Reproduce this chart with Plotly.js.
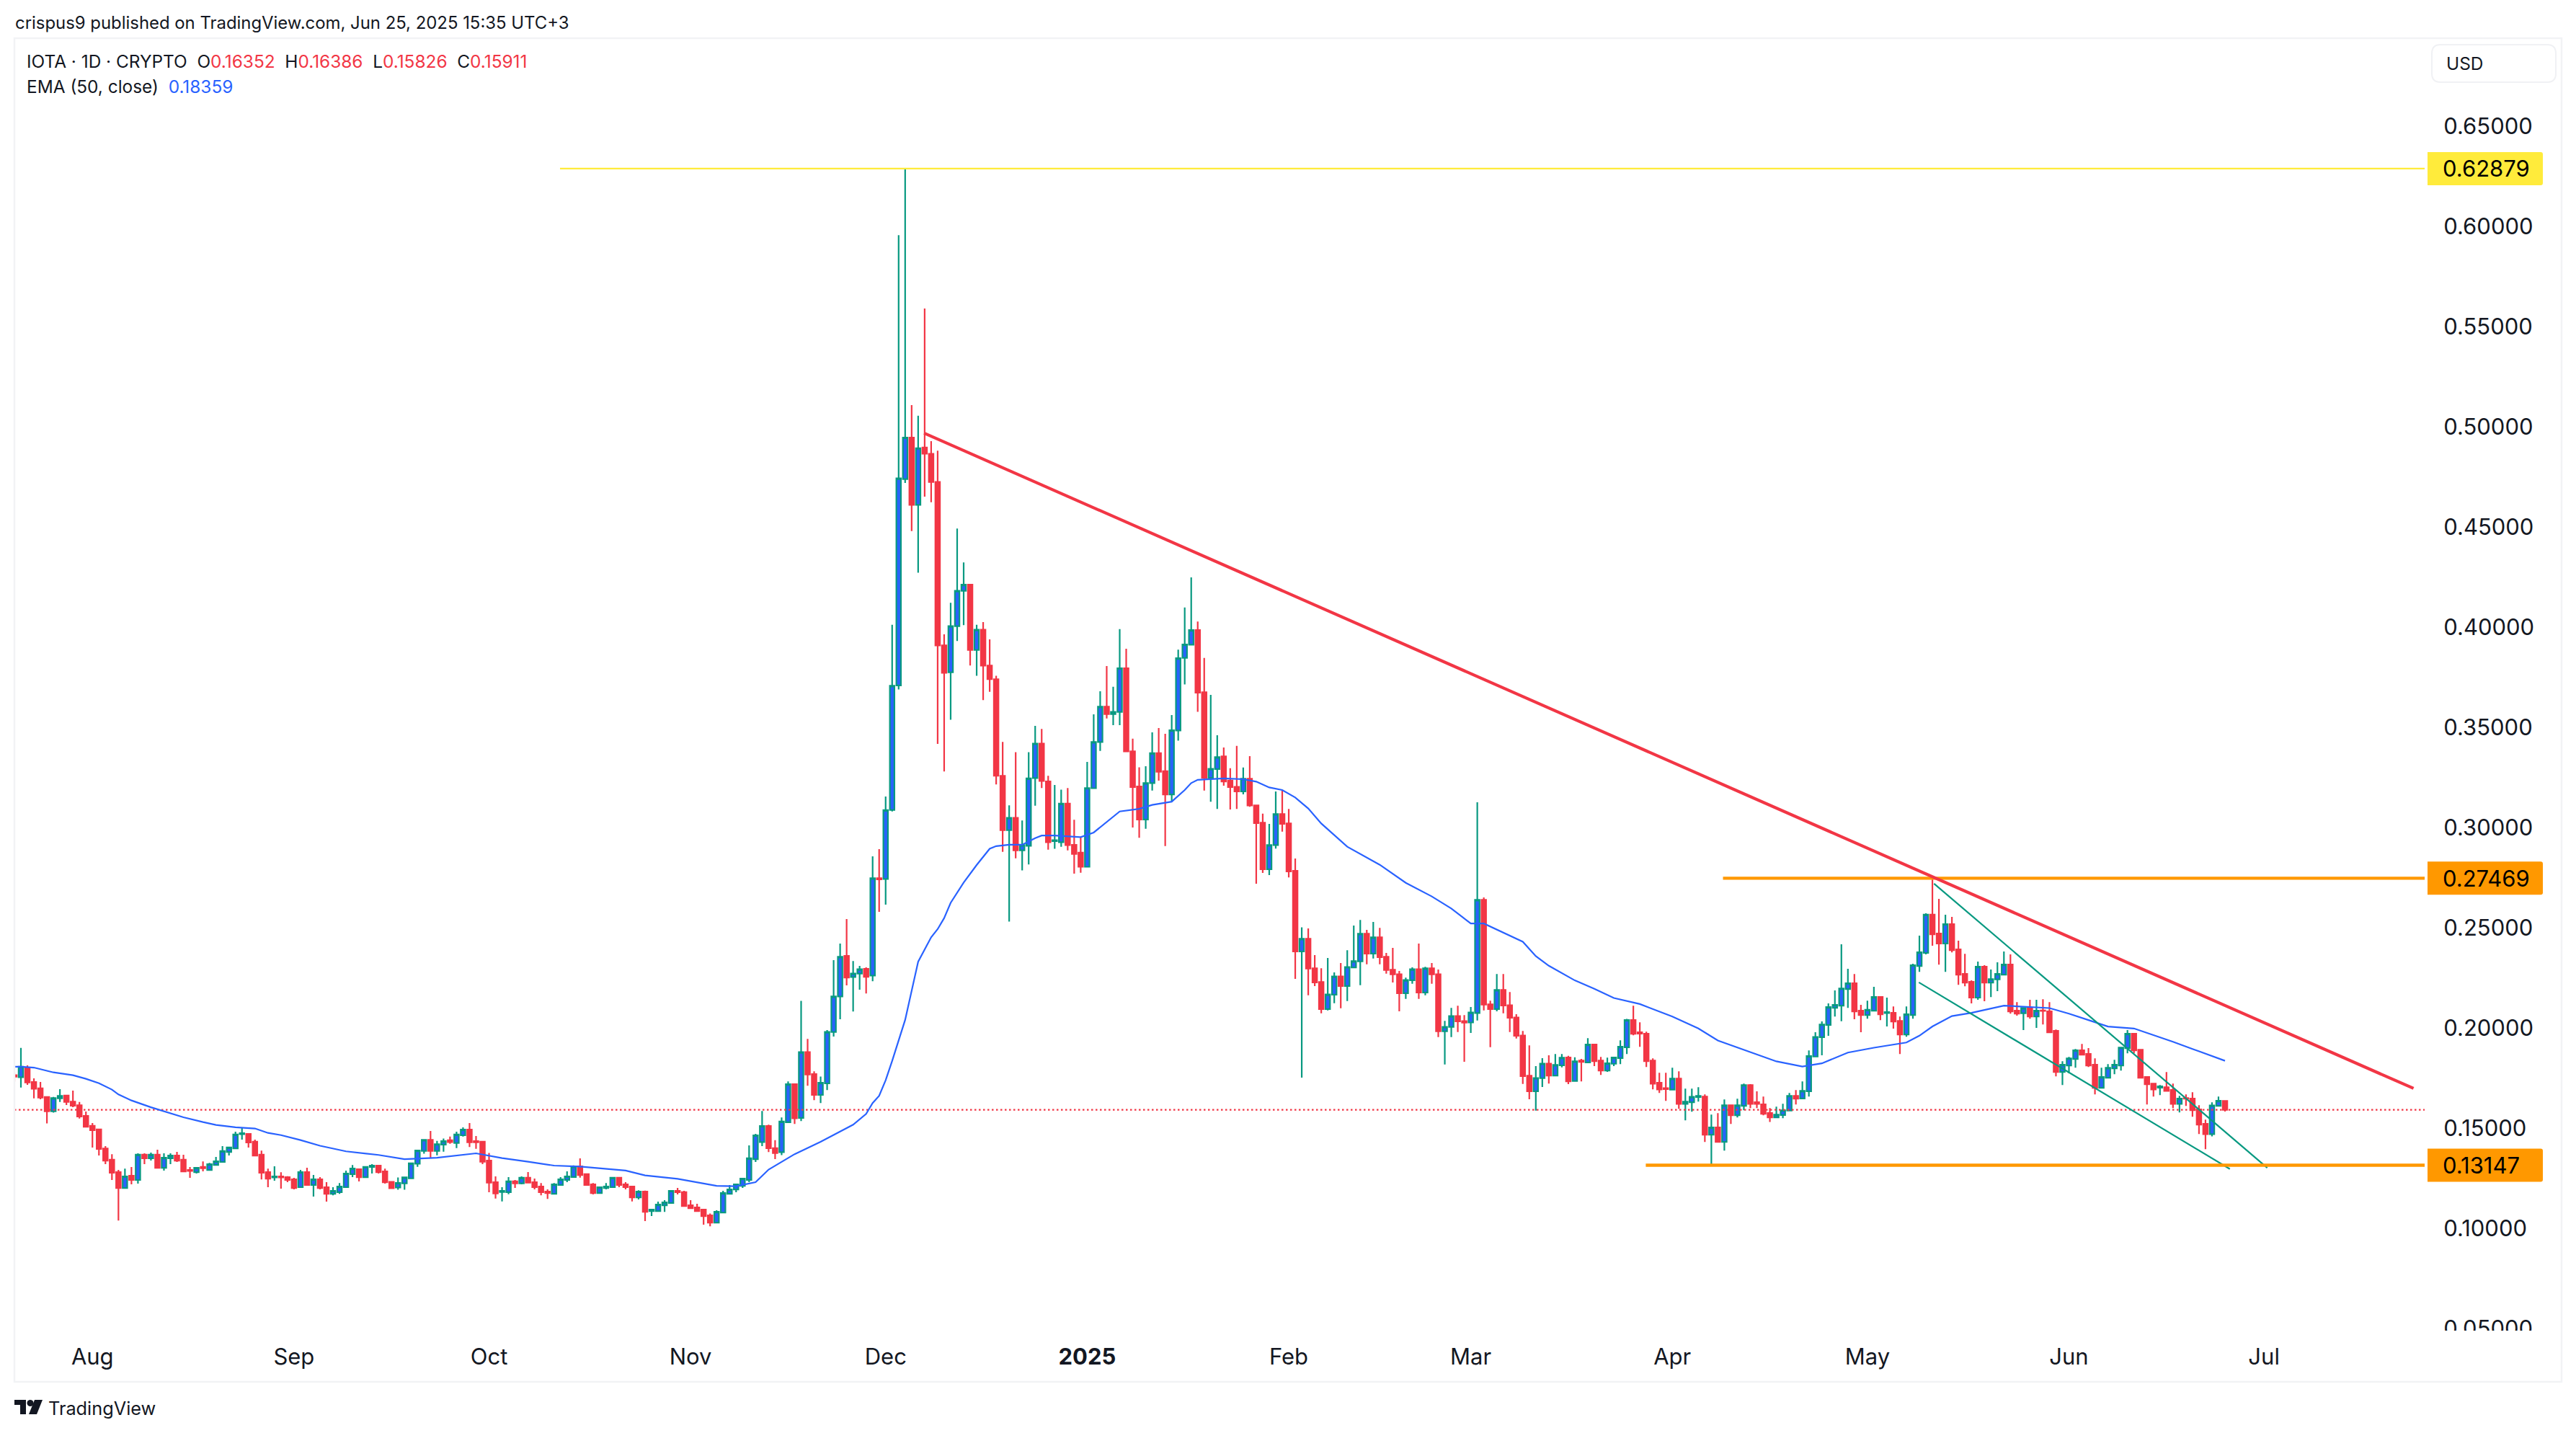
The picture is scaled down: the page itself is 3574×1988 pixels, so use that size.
<!DOCTYPE html>
<html>
<head>
<meta charset="utf-8">
<script src="https://cdn.plot.ly/plotly-3.0.1.min.js"></script>
<style>html,body{margin:0;padding:0;background:#fff}#chart{width:3574px;height:1988px}</style>
</head>
<body>
<div id="chart"></div>
<script>
const firstBarDate = '2024-07-20';
const opens = [
.1764,.1754,.1802,.1730,.1698,.1655,.1584,.1649,.1662,.1632,
.1614,.1561,.1511,.1493,.1398,.1342,.1280,.1201,.1262,.1241,
.1367,.1349,.1367,.1302,.1349,.1363,.1342,.1291,.1280,.1306,
.1291,.1316,.1331,.1381,.1399,.1470,.1471,.1432,.1367,.1280,
.1254,.1259,.1255,.1244,.1205,.1280,.1216,.1244,.1205,.1172,
.1180,.1205,.1270,.1295,.1255,.1306,.1313,.1284,.1232,.1204,
.1224,.1249,.1322,.1386,.1441,.1386,.1418,.1439,.1426,.1464,
.1492,.1435,.1432,.1338,.1230,.1181,.1180,.1234,.1224,.1252,
.1230,.1208,.1183,.1172,.1216,.1241,.1256,.1309,.1270,.1219,
.1176,.1201,.1205,.1252,.1219,.1208,.1154,.1183,.1086,.1086,
.1115,.1126,.1187,.1180,.1115,.1104,.1093,.1064,.1028,.1079,
.1172,.1194,.1212,.1241,.1345,.1430,.1510,.1400,.1380,.1529,
.1719,.1551,.1879,.1769,.1666,.1723,.1980,.2157,.2359,.2254,
.2271,.2295,.2261,.2747,.2743,.3088,.3709,.4739,.4946,.4610,
.4896,.4865,.4724,.3909,.3775,.4005,.4181,.4212,.3886,.3987,
.3808,.3740,.3258,.2987,.3048,.2886,.2909,.3247,.3419,.3230,
.2932,.2927,.3119,.2913,.2875,.2804,.3196,.3427,.3603,.3566,
.3577,.3795,.3380,.3205,.3040,.3222,.3371,.3281,.3165,.3484,
.3847,.3912,.3985,.3675,.3248,.3292,.3355,.3234,.3203,.3180,
.3243,.3110,.3024,.2792,.2912,.3067,.3020,.2784,.2382,.2445,
.2297,.2229,.2094,.2166,.2257,.2209,.2302,.2332,.2470,.2371,
.2452,.2355,.2290,.2268,.2173,.2238,.2293,.2177,.2297,.2268,
.1983,.2005,.2059,.2034,.2027,.2074,.2639,.2117,.2094,.2189,
.2113,.2052,.1962,.1761,.1684,.1749,.1822,.1762,.1813,.1852,
.1735,.1837,.1828,.1917,.1837,.1787,.1821,.1849,.1903,.2039,
.1978,.1971,.1837,.1726,.1699,.1692,.1747,.1621,.1629,.1655,
.1657,.1467,.1503,.1431,.1614,.1564,.1611,.1715,.1629,.1618,
.1575,.1553,.1565,.1588,.1661,.1648,.1684,.1857,.1954,.2015,
.2100,.2111,.2194,.2223,.2086,.2064,.2086,.2154,.2074,.2075,
.2035,.1967,.2064,.2309,.2374,.2565,.2471,.2421,.2518,.2392,
.2269,.2230,.2151,.2305,.2226,.2242,.2266,.2316,.2086,.2073,
.2100,.2057,.2087,.2082,.1985,.1780,.1812,.1845,.1888,.1870,
.1816,.1701,.1751,.1798,.1812,.1899,.1971,.1891,.1755,.1722,
.1702,.1704,.1690,.1621,.1650,.1647,.1593,.1521,.1470,.1611,
.16352];
const closes = [
.1757,.1806,.1728,.1696,.1652,.1584,.1650,.1661,.1631,.1612,
.1558,.1507,.1490,.1396,.1338,.1277,.1201,.1259,.1241,.1367,
.1349,.1367,.1302,.1352,.1363,.1338,.1284,.1286,.1302,.1300,
.1320,.1334,.1385,.1403,.1468,.1474,.1428,.1363,.1277,.1248,
.1259,.1254,.1241,.1201,.1280,.1216,.1244,.1201,.1172,.1187,
.1208,.1273,.1298,.1255,.1306,.1313,.1280,.1230,.1200,.1226,
.1254,.1324,.1388,.1441,.1386,.1420,.1435,.1430,.1468,.1492,
.1429,.1429,.1332,.1228,.1174,.1187,.1234,.1224,.1252,.1228,
.1205,.1180,.1176,.1219,.1244,.1259,.1308,.1266,.1216,.1176,
.1205,.1208,.1252,.1216,.1205,.1154,.1183,.1082,.1093,.1118,
.1129,.1187,.1180,.1111,.1100,.1086,.1061,.1028,.1082,.1176,
.1194,.1219,.1248,.1349,.1464,.1510,.1400,.1375,.1533,.1719,
.1549,.1879,.1767,.1666,.1726,.1980,.2157,.2355,.2251,.2271,
.2293,.2255,.2747,.2741,.3087,.3707,.4742,.4946,.4610,.4893,
.4865,.4724,.3909,.3772,.4005,.4181,.4212,.3886,.3987,.3808,
.3740,.3258,.2987,.3048,.2886,.2912,.3245,.3419,.3232,.2927,
.2937,.3119,.2912,.2868,.2804,.3197,.3427,.3603,.3566,.3577,
.3795,.3380,.3202,.3040,.3222,.3371,.3278,.3165,.3485,.3845,
.3913,.3985,.3673,.3248,.3293,.3351,.3230,.3202,.3180,.3243,
.3110,.3022,.2792,.2912,.3067,.3018,.2781,.2382,.2445,.2296,
.2227,.2094,.2167,.2257,.2209,.2304,.2333,.2470,.2371,.2452,
.2353,.2289,.2267,.2173,.2239,.2293,.2177,.2297,.2267,.1983,
.2005,.2059,.2033,.2026,.2077,.2639,.2116,.2094,.2189,.2112,
.2051,.1961,.1759,.1684,.1750,.1822,.1762,.1815,.1851,.1733,
.1833,.1830,.1917,.1834,.1787,.1823,.1852,.1906,.2039,.1971,
.1972,.1834,.1722,.1693,.1695,.1747,.1621,.1632,.1656,.1661,
.1467,.1503,.1431,.1614,.1564,.1614,.1715,.1621,.1621,.1571,
.1553,.1567,.1589,.1661,.1647,.1686,.1859,.1955,.2017,.2104,
.2115,.2197,.2223,.2082,.2064,.2090,.2154,.2068,.2079,.2032,
.1967,.2068,.2313,.2377,.2565,.2467,.2421,.2518,.2388,.2266,
.2226,.2151,.2305,.2226,.2243,.2269,.2316,.2082,.2071,.2099,
.2057,.2086,.2085,.1978,.1780,.1816,.1848,.1888,.1866,.1812,
.1701,.1755,.1801,.1816,.1902,.1971,.1888,.1751,.1719,.1693,
.1708,.1686,.1621,.1647,.1647,.1589,.1517,.1470,.1613,.1636,
.15911];
const highs = [
.1776,.1900,.1813,.1748,.1730,.1658,.1656,.1694,.1666,.1687,
.1630,.1583,.1525,.1496,.1410,.1370,.1291,.1298,.1306,.1374,
.1374,.1378,.1392,.1374,.1374,.1381,.1367,.1306,.1302,.1334,
.1326,.1356,.1410,.1406,.1482,.1500,.1475,.1442,.1388,.1298,
.1309,.1280,.1260,.1252,.1291,.1302,.1266,.1255,.1230,.1205,
.1226,.1288,.1316,.1298,.1309,.1320,.1316,.1298,.1232,.1254,
.1255,.1326,.1392,.1441,.1486,.1436,.1448,.1458,.1482,.1504,
.1525,.1460,.1436,.1376,.1259,.1205,.1255,.1241,.1259,.1281,
.1248,.1226,.1194,.1226,.1255,.1284,.1314,.1349,.1270,.1226,
.1208,.1226,.1255,.1255,.1230,.1212,.1190,.1188,.1097,.1133,
.1140,.1190,.1201,.1187,.1140,.1122,.1093,.1074,.1090,.1187,
.1216,.1219,.1248,.1414,.1471,.1585,.1517,.1440,.1553,.1733,
.1721,.2135,.1945,.1783,.1757,.1989,.2338,.2421,.2543,.2334,
.2309,.2302,.2856,.2892,.3155,.4012,.5956,.62879,.5108,.5055,
.5590,.4928,.4880,.3964,.4121,.4492,.4323,.4212,.4012,.4025,
.3939,.3757,.3427,.3111,.3376,.3035,.3376,.3507,.3492,.3258,
.3212,.3189,.3197,.3039,.2952,.3327,.3565,.3680,.3806,.3702,
.3990,.3892,.3443,.3300,.3306,.3475,.3496,.3468,.3561,.3888,
.4098,.4248,.4028,.3846,.3662,.3460,.3399,.3296,.3407,.3299,
.3356,.3110,.3069,.3018,.3180,.3183,.3093,.2845,.2502,.2496,
.2363,.2298,.2349,.2277,.2324,.2388,.2511,.2539,.2489,.2529,
.2499,.2374,.2399,.2284,.2251,.2302,.2421,.2305,.2324,.2291,
.2035,.2100,.2111,.2064,.2104,.3126,.2651,.2136,.2269,.2269,
.2179,.2068,.1985,.1913,.1809,.1849,.1863,.1870,.1870,.1861,
.1853,.1845,.1949,.1920,.1855,.1852,.1855,.1938,.2045,.2111,
.2028,.1981,.1848,.1776,.1776,.1801,.1783,.1697,.1697,.1704,
.1668,.1567,.1575,.1643,.1618,.1647,.1722,.1719,.1683,.1657,
.1600,.1607,.1621,.1675,.1690,.1733,.1888,.1978,.2032,.2122,
.2187,.2417,.2295,.2269,.2115,.2136,.2205,.2154,.2151,.2107,
.2057,.2107,.2320,.2460,.2572,.27469,.2644,.2565,.2554,.2435,
.2370,.2237,.2331,.2313,.2291,.2327,.2381,.2367,.2129,.2099,
.2140,.2140,.2143,.2129,.1992,.1834,.1855,.1895,.1920,.1899,
.1848,.1801,.1819,.1841,.1903,.1989,.1974,.1891,.1758,.1726,
.1715,.1780,.1722,.1661,.1668,.1679,.1614,.1542,.1629,.1657,
.16386];
const lows = [
.1732,.1702,.1716,.1648,.1644,.1523,.1577,.1630,.1615,.1604,
.1548,.1504,.1403,.1363,.1320,.1241,.1039,.1201,.1219,.1223,
.1320,.1338,.1298,.1288,.1320,.1331,.1280,.1252,.1273,.1284,
.1288,.1313,.1327,.1363,.1399,.1442,.1403,.1363,.1244,.1205,
.1237,.1198,.1230,.1194,.1201,.1216,.1158,.1194,.1133,.1165,
.1172,.1205,.1255,.1234,.1255,.1273,.1273,.1223,.1200,.1192,
.1192,.1246,.1307,.1372,.1352,.1364,.1382,.1422,.1400,.1458,
.1406,.1397,.1320,.1180,.1148,.1134,.1170,.1201,.1219,.1224,
.1194,.1165,.1147,.1172,.1212,.1230,.1254,.1253,.1212,.1169,
.1176,.1194,.1205,.1205,.1194,.1134,.1144,.1036,.1061,.1082,
.1082,.1126,.1169,.1111,.1100,.1082,.1018,.1010,.1028,.1079,
.1169,.1180,.1201,.1230,.1331,.1410,.1380,.1345,.1365,.1529,
.1521,.1535,.1711,.1639,.1625,.1690,.1957,.2043,.2212,.2082,
.2191,.2172,.2233,.2579,.2615,.3080,.3689,.4719,.4479,.4272,
.4651,.4623,.3417,.3280,.3538,.3931,.4010,.3808,.3757,.3636,
.3677,.3215,.2879,.2531,.2846,.2786,.2816,.3109,.3197,.2889,
.2894,.2904,.2886,.2770,.2774,.2804,.3196,.3382,.3544,.3511,
.3511,.3380,.3000,.2949,.2994,.3184,.3234,.2907,.3129,.3433,
.3714,.3912,.3577,.3184,.3129,.3093,.3209,.3090,.3093,.3165,
.3103,.2719,.2773,.2763,.2895,.2979,.2751,.2245,.1752,.2163,
.2209,.2073,.2087,.2123,.2098,.2134,.2300,.2213,.2317,.2346,
.2317,.2271,.2227,.2083,.2145,.2220,.2145,.2163,.2220,.1954,
.1817,.1954,.1979,.1831,.1975,.2037,.2087,.1904,.2083,.2073,
.1979,.1947,.1720,.1644,.1587,.1705,.1722,.1759,.1803,.1719,
.1733,.1733,.1828,.1809,.1765,.1781,.1809,.1819,.1870,.1963,
.1906,.1805,.1693,.1675,.1636,.1692,.1596,.1539,.1582,.1632,
.1431,.1315,.1427,.1388,.1521,.1553,.1589,.1600,.1600,.1564,
.1531,.1549,.1549,.1585,.1618,.1647,.1657,.1857,.1863,.1960,
.2057,.2033,.2100,.2043,.1978,.2046,.2086,.2039,.2007,.1996,
.1870,.1956,.2046,.2280,.2367,.2410,.2316,.2280,.2377,.2215,
.2208,.2122,.2140,.2133,.2154,.2183,.2266,.2071,.2061,.1989,
.2046,.2000,.2017,.1978,.1758,.1715,.1773,.1801,.1866,.1805,
.1668,.1701,.1747,.1769,.1787,.1873,.1873,.1747,.1618,.1657,
.1665,.1686,.1600,.1578,.1611,.1557,.1470,.1395,.1459,.1611,
.15826];

// EMA (50, close): bar number (counted from Jul 21 2024) and the value read at that bar
const emaBars = [-1,0,2,5,8,10,12,14,15,17,20,22,25,28,30,33,36,38,40,43,46,50,55,59,64,70,74,78,82,86,93,96,101,107,110,113,115,119,123,128,130,131,132,133,134,136,138,140,141,142,143,145,147,149,150,152,154,156,157,159,163,165,167,169,172,174,177,179,180,181,185,188,190,192,194,196,198,200,204,209,213,217,220,223,225,228,231,233,235,239,242,245,249,254,258,261,265,270,274,277,281,285,290,292,294,297,300,305,312,315,318,321,325,331,334,337,339];
const emaValues = [.1806,.1806,.1802,.1778,.1764,.1746,.1724,.1692,.1668,.1638,.1604,.1584,.1554,.1530,.1516,.1504,.1498,.1476,.1465,.1440,.1412,.1384,.1366,.1345,.1352,.1374,.1350,.1332,.1313,.1308,.1288,.1264,.1247,.1212,.1210,.1230,.1293,.1370,.1432,.1517,.1571,.1625,.1661,.1739,.1835,.2040,.2330,.2452,.2493,.2548,.2624,.2725,.2813,.2894,.2907,.2914,.2914,.2947,.2960,.2960,.2952,.2975,.3026,.3080,.3093,.3113,.3129,.3187,.3222,.3238,.3245,.3241,.3229,.3200,.3187,.3150,.3095,.3020,.2904,.2814,.2724,.2656,.2596,.2521,.2521,.2474,.2430,.2358,.2310,.2237,.2195,.2149,.2119,.2057,.1997,.1937,.1891,.1833,.1807,.1823,.1877,.1901,.1927,.1961,.2007,.2059,.2075,.2111,.2099,.2071,.2039,.2007,.1997,.1931,.1895,.1859,.18359];

// Hand-drawn lines on the chart
const lastPrice = 0.15911;
const highLevel = 0.62879, upperLevel = 0.27469, lowerLevel = 0.13147;
const redTrendX = ['2024-12-06 22:00','2025-07-24 00:00'], redTrendY = [.4968,.1698];
const wedgeUpperX = ['2025-05-11 06:00','2025-07-01 12:00'], wedgeUpperY = [.2720,.1302];
const wedgeLowerX = ['2025-05-08 22:00','2025-06-25 18:00'], wedgeLowerY = [.2227,.1296];
const highLevelStart = '2024-10-11 22:00', upperLevelStart = '2025-04-08 19:00', lowerLevelStart = '2025-03-27 22:00';
const xStart = '2024-07-20 00:00', xEnd = '2025-07-25 17:00';

const priceTicks = [.05,.10,.15,.20,.25,.30,.35,.40,.45,.50,.55,.60,.65];
const monthTicks = ['2024-08-01','2024-09-01','2024-10-01','2024-11-01','2024-12-01','2025-01-01','2025-02-01','2025-03-01','2025-04-01','2025-05-01','2025-06-01','2025-07-01'];
const monthLabels = ['Aug','Sep','Oct','Nov','Dec','<b>2025</b>','Feb','Mar','Apr','May','Jun','Jul'];

const W = 3574, H = 1988;
const FONT = 'Inter, "Noto Sans", sans-serif';
const INK = '#131722', RED = '#F23645', GREEN = '#089981', BLUE = '#2962FF', ORANGE = '#FF9800', YELLOW = '#FFEB3B';
const PANE = {l:20, r:3364, t:53, b:1846};
const fx = x => x / W, fy = y => 1 - y / H;

const barDates = opens.map((_, i) => {
  const d = new Date(Date.parse(firstBarDate + 'T00:00:00Z') + i * 86400000);
  return d.toISOString().slice(0, 10);
});
const emaDates = emaBars.map(b => barDates[b + 1]);

const yRange = [.04892, .69388];
const priceToPx = p => PANE.t + (yRange[1] - p) / (yRange[1] - yRange[0]) * (PANE.b - PANE.t);

function lineTrace(x, y, color, width, dash) {
  return {type:'scatter', mode:'lines', x, y, hoverinfo:'skip', showlegend:false,
          line:{color, width, dash: dash || 'solid', shape:'linear'}};
}

const traces = [
  lineTrace([xStart, xEnd], [lastPrice, lastPrice], RED, 2.4, '2.5px,3.5px'),
  {type:'candlestick', x:barDates, open:opens, high:highs, low:lows, close:closes,
   hoverinfo:'skip', showlegend:false,
   increasing:{line:{color:GREEN, width:2.2}, fillcolor:BLUE},
   decreasing:{line:{color:RED, width:2.2}, fillcolor:RED},
   whiskerwidth:0},
  lineTrace(emaDates, emaValues, BLUE, 2.2),
  lineTrace(wedgeUpperX, wedgeUpperY, GREEN, 2.2),
  lineTrace(wedgeLowerX, wedgeLowerY, GREEN, 2.2),
  lineTrace([highLevelStart, xEnd], [highLevel, highLevel], YELLOW, 2.2),
  lineTrace([upperLevelStart, xEnd], [upperLevel, upperLevel], ORANGE, 4.4),
  lineTrace([lowerLevelStart, xEnd], [lowerLevel, lowerLevel], ORANGE, 4.4),
  lineTrace(redTrendX, redTrendY, RED, 4.2)
];

function roundBoxPath(x0, y0, x1, y1, r) {
  return `M ${fx(x0)} ${fy(y0)} L ${fx(x1 - r)} ${fy(y0)} Q ${fx(x1)} ${fy(y0)} ${fx(x1)} ${fy(y0 + r)} ` +
         `L ${fx(x1)} ${fy(y1 - r)} Q ${fx(x1)} ${fy(y1)} ${fx(x1 - r)} ${fy(y1)} L ${fx(x0)} ${fy(y1)} Z`;
}
function roundRectPath(x0, y0, x1, y1, r) {
  return `M ${fx(x0 + r)} ${fy(y0)} L ${fx(x1 - r)} ${fy(y0)} Q ${fx(x1)} ${fy(y0)} ${fx(x1)} ${fy(y0 + r)} ` +
         `L ${fx(x1)} ${fy(y1 - r)} Q ${fx(x1)} ${fy(y1)} ${fx(x1 - r)} ${fy(y1)} L ${fx(x0 + r)} ${fy(y1)} ` +
         `Q ${fx(x0)} ${fy(y1)} ${fx(x0)} ${fy(y1 - r)} L ${fx(x0)} ${fy(y0 + r)} Q ${fx(x0)} ${fy(y0)} ${fx(x0 + r)} ${fy(y0)} Z`;
}
function pxPoly(pts) {
  return 'M ' + pts.map(p => fx(p[0]) + ' ' + fy(p[1])).join(' L ') + ' Z';
}
const paperShape = o => Object.assign({xref:'paper', yref:'paper', layer:'above'}, o);
const BOX_H = 46;
const labelBox = (p, color) => paperShape({type:'path', fillcolor:color, line:{width:0},
  path: roundBoxPath(3368, priceToPx(p) - BOX_H / 2, 3528, priceToPx(p) + BOX_H / 2, 3)});

const shapes = [
  paperShape({type:'rect', x0:fx(20), x1:fx(3554), y0:fy(53), y1:fy(1917), line:{color:'#F2F3F5', width:2.5}}),
  paperShape({type:'path', path:roundRectPath(3374, 62, 3546, 114, 12), line:{color:'#F0F1F4', width:2}, fillcolor:'rgba(255,255,255,0)'}),
  // the lowest price label is cut by the bottom of the pane
  paperShape({type:'rect', x0:fx(3370), x1:fx(3540), y0:fy(1846), y1:fy(1868), line:{width:0}, fillcolor:'#ffffff'}),
  labelBox(highLevel, YELLOW),
  labelBox(upperLevel, ORANGE),
  labelBox(lowerLevel, ORANGE),
  // TradingView logo
  paperShape({type:'path', fillcolor:INK, line:{width:0}, path:pxPoly([[20,1942],[36,1942],[36,1962],[28,1962],[28,1949],[20,1949]])}),
  paperShape({type:'circle', fillcolor:INK, line:{width:0}, x0:fx(37.5), x1:fx(46.5), y0:fy(1942), y1:fy(1951)}),
  paperShape({type:'path', fillcolor:INK, line:{width:0}, path:pxPoly([[48,1942],[59,1942],[51,1962],[40,1962]])})
];

const note = (x, y, text, size, color, weight) => ({
  xref:'paper', yref:'paper', x:fx(x), y:fy(y), text, showarrow:false, xanchor:'left', yanchor:'middle',
  align:'left', borderpad:0, font:{family:FONT, size, color:color || INK, weight: weight || 400}
});
const r = s => `<span style="color:${RED}">${s}</span>`;
const NB = '\u00a0';
const annotations = [
  note(20, 32, 'crispus9 published on TradingView.com, Jun 25, 2025 15:35 UTC+3', 23.9),
  note(36, 85, `IOTA · 1D · CRYPTO${NB}${NB}O${r('0.16352')}${NB}${NB}H${r('0.16386')}${NB}${NB}L${r('0.15826')}${NB}${NB}C${r('0.15911')}`, 24.4),
  note(36, 120, `EMA (50, close)${NB}${NB}<span style="color:${BLUE}">0.18359</span>`, 24.4),
  note(3393, 88, 'USD', 24.4),
  note(3388, priceToPx(highLevel), highLevel.toFixed(5), 31, '#000000'),
  note(3388, priceToPx(upperLevel), upperLevel.toFixed(5), 31, '#000000'),
  note(3388, priceToPx(lowerLevel), lowerLevel.toFixed(5), 31, '#000000'),
  note(66, 1953, 'TradingView', 25.3)
];

const layout = {
  width:W, height:H, autosize:false,
  margin:{l:0, r:0, t:0, b:0, pad:0, autoexpand:false},
  paper_bgcolor:'#ffffff', plot_bgcolor:'#ffffff',
  showlegend:false, hovermode:false, dragmode:false,
  boxgap:0.3, boxgroupgap:0,
  xaxis:{type:'date', domain:[fx(PANE.l), fx(PANE.r)], range:[xStart, xEnd], anchor:'y',
         rangeslider:{visible:false}, showgrid:false, zeroline:false, showline:false,
         ticks:'outside', ticklen:9, tickwidth:0, tickcolor:'rgba(0,0,0,0)',
         tickmode:'array', tickvals:monthTicks, ticktext:monthLabels, tickangle:0,
         tickfont:{family:FONT, size:31, color:INK}, automargin:false, fixedrange:true},
  yaxis:{type:'linear', domain:[fy(PANE.b), fy(PANE.t)], range:yRange, side:'right', anchor:'x',
         showgrid:false, zeroline:false, showline:false,
         ticks:'outside', ticklen:19, tickwidth:0, tickcolor:'rgba(0,0,0,0)',
         tickmode:'array', tickvals:priceTicks, ticktext:priceTicks.map(v => v.toFixed(5)),
         tickfont:{family:FONT, size:31, color:INK}, automargin:false, fixedrange:true},
  shapes, annotations
};

Plotly.newPlot('chart', traces, layout, {displayModeBar:false, staticPlot:true, responsive:false});
</script>
</body>
</html>
